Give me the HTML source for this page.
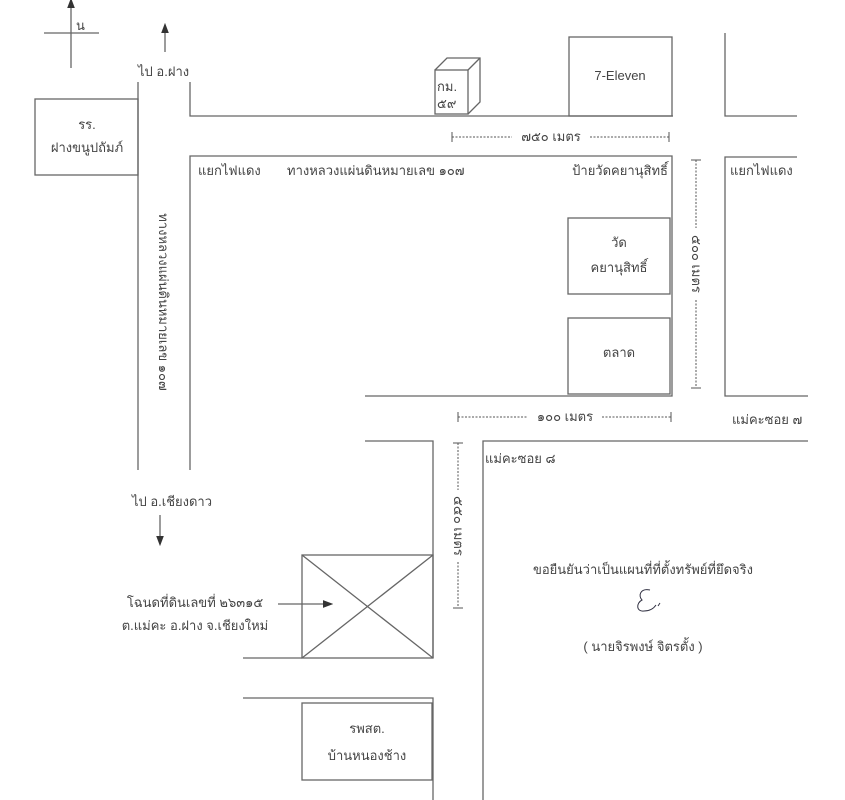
<!DOCTYPE html>
<html><head><meta charset="utf-8"><style>
html,body{margin:0;padding:0;background:#fff;}
svg{display:block;}
text{font-family:"Liberation Sans","Noto Sans CJK SC",sans-serif;font-size:13px;fill:#444;}
</style></head><body>
<svg width="845" height="800" viewBox="0 0 845 800" xmlns="http://www.w3.org/2000/svg">
<defs><marker id="a" markerWidth="8" markerHeight="8" refX="4" refY="4" orient="auto"><path d="M0,1 L8,4 L0,7 z" fill="#333"/></marker></defs>
<g stroke="#666" stroke-width="1.3" fill="none">
<!-- compass -->
<line x1="71" y1="68" x2="71" y2="3" marker-end="url(#a)"/>
<line x1="44" y1="33" x2="99" y2="33"/>
<line x1="165" y1="52" x2="165" y2="28" marker-end="url(#a)"/>
<!-- left roads -->
<line x1="138" y1="82" x2="138" y2="470"/>
<polyline points="190,82 190,116 673,116"/>
<rect x="35" y="99" width="103" height="76"/>
<!-- km cube -->
<rect x="435" y="70" width="33" height="44"/>
<polyline points="435,70 447,58 480,58 480,102 468,114"/>
<line x1="468" y1="70" x2="480" y2="58"/>
<rect x="569" y="37" width="103" height="79"/>
<polyline points="725,33 725,116 797,116"/>
<!-- inner block -->
<polyline points="190,470 190,156 672,156 672,396 365,396"/>
<rect x="568" y="218" width="102" height="76"/>
<rect x="568" y="318" width="102" height="76"/>
<polyline points="797,157 725,157 725,396 808,396"/>
<!-- lower -->
<polyline points="365,441 433,441 433,658"/>
<rect x="302" y="555" width="131" height="103"/>
<line x1="302" y1="555" x2="433" y2="658"/>
<line x1="433" y1="555" x2="302" y2="658"/>
<line x1="243" y1="658" x2="302" y2="658"/>
<line x1="278" y1="604" x2="328" y2="604" marker-end="url(#a)"/>
<line x1="160" y1="515" x2="160" y2="541" marker-end="url(#a)"/>
<polyline points="243,698 433,698 433,800"/>
<rect x="302" y="703" width="130" height="77"/>
<polyline points="483,800 483,441 808,441"/>
</g>
<!-- dimension lines -->
<g stroke="#555" stroke-width="1" fill="none">
<line x1="452" y1="132" x2="452" y2="142"/><line x1="669" y1="132" x2="669" y2="142"/>
<line x1="452" y1="137" x2="512" y2="137" stroke-dasharray="2,1.5"/><line x1="590" y1="137" x2="669" y2="137" stroke-dasharray="2,1.5"/>
<line x1="458" y1="412" x2="458" y2="422"/><line x1="671" y1="412" x2="671" y2="422"/>
<line x1="458" y1="417" x2="528" y2="417" stroke-dasharray="2,1.5"/><line x1="602" y1="417" x2="671" y2="417" stroke-dasharray="2,1.5"/>
<line x1="691" y1="160" x2="701" y2="160"/><line x1="691" y1="388" x2="701" y2="388"/>
<line x1="696" y1="160" x2="696" y2="228" stroke-dasharray="2,1.5"/><line x1="696" y1="300" x2="696" y2="388" stroke-dasharray="2,1.5"/>
<line x1="453" y1="443" x2="463" y2="443"/><line x1="453" y1="608" x2="463" y2="608"/>
<line x1="458" y1="443" x2="458" y2="490" stroke-dasharray="2,1.5"/><line x1="458" y1="562" x2="458" y2="608" stroke-dasharray="2,1.5"/>
</g>
<text x="76" y="30">น</text>
<text x="138" y="76">ไป อ.ฝาง</text>
<text x="87" y="129" text-anchor="middle">รร.</text>
<text x="87" y="152" text-anchor="middle">ฝางขนูปถัมภ์</text>
<text x="437" y="91" font-size="11">กม.</text>
<text x="437" y="108" font-size="11">๕๙</text>
<text x="620" y="80" text-anchor="middle">7-Eleven</text>
<text x="551" y="141" text-anchor="middle">๗๕๐ เมตร</text>
<text x="198" y="175">แยกไฟแดง</text>
<text x="287" y="175">ทางหลวงแผ่นดินหมายเลข ๑๐๗</text>
<text x="668" y="175" text-anchor="end">ป้ายวัดคยานุสิทธิ์</text>
<text x="730" y="175">แยกไฟแดง</text>
<text x="619" y="247" text-anchor="middle">วัด</text>
<text x="619" y="272" text-anchor="middle">คยานุสิทธิ์</text>
<text x="619" y="357" text-anchor="middle">ตลาด</text>
<text transform="translate(692,264) rotate(90)" text-anchor="middle">๕๐๐ เมตร</text>
<text transform="translate(159,302) rotate(90)" text-anchor="middle" font-size="12">ทางหลวงแผ่นดินหมายเลข ๑๐๗</text>
<text x="565" y="421" text-anchor="middle">๑๐๐ เมตร</text>
<text x="732" y="424">แม่คะซอย ๗</text>
<text x="485" y="463">แม่คะซอย ๘</text>
<text transform="translate(454,526) rotate(90)" text-anchor="middle">๕๕๐ เมตร</text>
<text x="172" y="506" text-anchor="middle">ไป อ.เชียงดาว</text>
<text x="195" y="607" text-anchor="middle">โฉนดที่ดินเลขที่ ๒๖๓๑๕</text>
<text x="195" y="630" text-anchor="middle">ต.แม่คะ  อ.ฝาง  จ.เชียงใหม่</text>
<text x="367" y="733" text-anchor="middle">รพสต.</text>
<text x="367" y="760" text-anchor="middle">บ้านหนองช้าง</text>
<text x="643" y="574" text-anchor="middle">ขอยืนยันว่าเป็นแผนที่ที่ตั้งทรัพย์ที่ยึดจริง</text>
<path d="M650,590 C640,588 638,596 642,600 C636,603 636,612 644,611 C650,611 654,608 656,605 M658,606 L660,603" stroke="#334" stroke-width="1" fill="none"/>
<text x="643" y="651" text-anchor="middle">( นายจิรพงษ์  จิตรตั้ง )</text>
</svg>
</body></html>
